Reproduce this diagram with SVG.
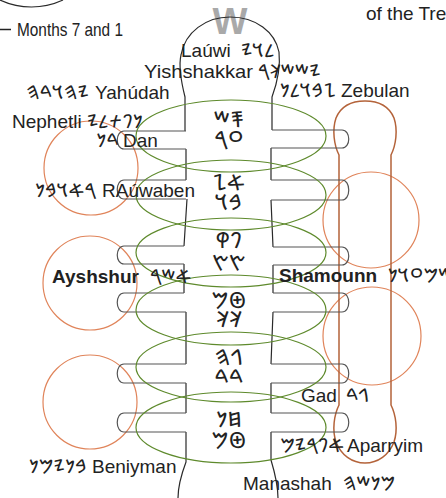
<svg xmlns="http://www.w3.org/2000/svg" width="446" height="498" viewBox="0 0 446 498">
<style>
.t{font-family:"Liberation Sans",Arial,sans-serif;font-size:19px;fill:#222}
.b{font-weight:bold}
.g{font-family:"Noto Sans Phoenician","Noto Sans","DejaVu Sans",sans-serif;font-size:19px;fill:#222}
.m{font-size:22px}
.c{text-anchor:middle}
.e{text-anchor:end}
.ln{fill:none;stroke:#2a2a2a;stroke-width:1.2}
.peg{fill:none;stroke:#555;stroke-width:1.2}
.ell{fill:none;stroke:#5e8a2c;stroke-width:1.2}
.orb{fill:none;stroke:#e0845a;stroke-width:1.2}
</style>
<rect width="446" height="498" fill="#fff"/>

<g id="top-arc"><path class="ln" d="M0,0 A74.4,74.4 0 0 0 63,0"/></g>
<g id="legend">
<line x1="0" y1="29.5" x2="11" y2="29.5" stroke="#222" stroke-width="1.5"/>
<text class="t" x="17" y="36" textLength="106" lengthAdjust="spacingAndGlyphs">Months 7 and 1</text>
</g>
<g id="title"><text class="t" x="366" y="20">of the Tree</text></g>

<g id="circles-left">
<circle class="orb" cx="91" cy="168" r="47"/>
<circle class="orb" cx="90" cy="283" r="47"/>
<circle class="orb" cx="90" cy="402" r="47"/>
</g>
<g id="circles-right">
<circle class="orb" cx="371" cy="220" r="48"/>
<circle class="orb" cx="372" cy="336" r="49"/>
</g>
<g id="vessel">
<path fill="none" stroke="#b4633a" stroke-width="1.5" d="M339,155 C334,145 332,130 336,118 C341,106 352,101 365,101 C378,101 389,106 394,118 C398,130 396,145 391,155 L391,405 C396,415 398,430 394,442 C389,455 378,463 365,463 C352,463 341,455 336,442 C332,430 334,415 339,405 Z"/>
</g>

<text x="230" y="34" text-anchor="middle" font-family="Liberation Sans,Arial,sans-serif" font-weight="bold" font-size="37" fill="#a9a9a9">W</text>

<g id="trunk">
<path class="ln" d="M185,131 L185,97 C182,85 178,68 181,55 C185,32 206,17 230,17 C256,17 275,32 279,52 C281,70 276,86 272,97 L272,130"/>
<path class="ln" d="M186,149 L186,180 M187,199 L184,246 M184,264 L184,293 M186,312 L186,364 M186,383 L186,413 M186,432 L186,462 C183,470 178,485 178,498"/>
<path class="ln" d="M271,148 L271,180 M271,200 L273,247 M273,265 L273,293 M273,312 L271,364 M271,383 L271,413 M271,432 L271,460 C274,470 278,485 278,498"/>
</g>
<g id="pegs-left">
<path class="peg" d="M186,131 L124,131 C115,131 115,149 124,149 L186,149"/>
<path class="peg" d="M186,180 L124,180 C115,180 115,199 124,199 L186,199"/>
<path class="peg" d="M184,246 L124,246 C115,246 115,264 124,264 L184,264"/>
<path class="peg" d="M184,293 L124,293 C115,293 115,312 124,312 L186,312"/>
<path class="peg" d="M186,364 L124,364 C115,364 115,383 124,383 L186,383"/>
<path class="peg" d="M186,413 L124,413 C115,413 115,432 124,432 L186,432"/>
</g>
<g id="pegs-right">
<path class="peg" d="M272,130 L342,130 C351,130 351,148 342,148 L271,148"/>
<path class="peg" d="M271,180 L342,180 C351,180 351,200 342,200 L271,200"/>
<path class="peg" d="M273,247 L342,247 C351,247 351,265 342,265 L273,265"/>
<path class="peg" d="M273,293 L342,293 C351,293 351,312 342,312 L273,312"/>
<path class="peg" d="M271,364 L342,364 C351,364 351,383 342,383 L271,383"/>
<path class="peg" d="M271,413 L342,413 C351,413 351,432 342,432 L271,432"/>
</g>

<g id="row1"><ellipse class="ell" cx="231" cy="136" rx="95" ry="36"/>
<text class="g m c" x="229" y="127">&#x1090E;&#x10914;</text><text class="g m c" x="229" y="147">&#x1090F;&#x10913;</text></g>
<g id="row2"><ellipse class="ell" cx="231" cy="195" rx="95" ry="35"/>
<text class="g m c" x="229" y="190">&#x10900;&#x10906;</text><text class="g m c" x="229" y="210">&#x10901;&#x10905;</text></g>
<g id="row3"><ellipse class="ell" cx="231" cy="252.5" rx="95" ry="34.5"/>
<text class="g m c" x="229" y="248">&#x10910;&#x10912;</text><text class="g m c" x="229" y="271">&#x10911;&#x10911;</text></g>
<g id="row4"><ellipse class="ell" cx="231" cy="310" rx="95" ry="35"/>
<text class="g m c" x="229" y="308">&#x10908;&#x1090C;</text><text class="g m c" x="229" y="327">&#x1090A;&#x1090A;</text></g>
<g id="row5"><ellipse class="ell" cx="231" cy="367" rx="95" ry="35"/>
<text class="g m c" x="229" y="365">&#x10902;&#x10904;</text><text class="g m c" x="229" y="385">&#x10903;&#x10903;</text></g>
<g id="row6"><ellipse class="ell" cx="231" cy="427.5" rx="95" ry="35.5"/>
<text class="g m c" x="229" y="427">&#x10907;&#x1090D;</text><text class="g m c" x="229" y="448">&#x10908;&#x1090C;</text></g>

<g id="levi"><text class="t" x="181" y="57">Laúwi</text><text class="g" x="241" y="57">&#x1090B;&#x10905;&#x10909;</text></g>
<g id="yishshakkar"><text class="t" x="144" y="78" textLength="109" lengthAdjust="spacingAndGlyphs">Yishshakkar</text><text class="g" x="258" y="78">&#x10909;&#x10914;&#x10914;&#x1090A;&#x10913;</text></g>
<g id="zebulan"><text class="g e" x="336" y="97">&#x10906;&#x10901;&#x10905;&#x1090B;&#x1090D;</text><text class="t" x="341" y="97">Zebulan</text></g>
<g id="yahudah"><text class="g e" x="89" y="99">&#x10909;&#x10904;&#x10905;&#x10903;&#x10904;</text><text class="t" x="95" y="99">Yahúdah</text></g>
<g id="nephetli"><text class="t" x="12" y="128">Nephetli</text><text class="g" x="87" y="128">&#x1090D;&#x10910;&#x10915;&#x1090B;&#x10909;</text></g>
<g id="dan"><text class="g e" x="119" y="147">&#x10903;&#x1090D;</text><text class="t" x="123" y="147">Dan</text></g>
<g id="reuben"><text class="g e" x="96" y="197">&#x10913;&#x10900;&#x10905;&#x10901;&#x1090D;</text><text class="t" x="102" y="197">RAúwaben</text></g>
<g id="ayshshur"><text class="t b" x="52" y="283">Ayshshur</text><text class="g" x="150" y="283">&#x10900;&#x10914;&#x10913;</text></g>
<g id="shamounn"><text class="t b" x="279" y="282">Shamounn</text><text class="g" x="388" y="282">&#x10914;&#x1090C;&#x1090F;&#x10905;&#x1090D;</text></g>
<g id="gad"><text class="t" x="301" y="402">Gad</text><text class="g" x="346" y="402">&#x10902;&#x10903;</text></g>
<g id="aparryim"><text class="g e" x="344" y="452">&#x10900;&#x10910;&#x10913;&#x10909;&#x1090C;</text><text class="t" x="347" y="452">Aparryim</text></g>
<g id="beniyman"><text class="g e" x="87" y="473">&#x10901;&#x1090D;&#x10909;&#x1090C;&#x1090D;</text><text class="t" x="92" y="473">Beniyman</text></g>
<g id="manashah"><text class="t" x="243" y="490">Manashah</text><text class="g" x="343" y="490">&#x1090C;&#x1090D;&#x10914;&#x10904;</text></g>
</svg>
